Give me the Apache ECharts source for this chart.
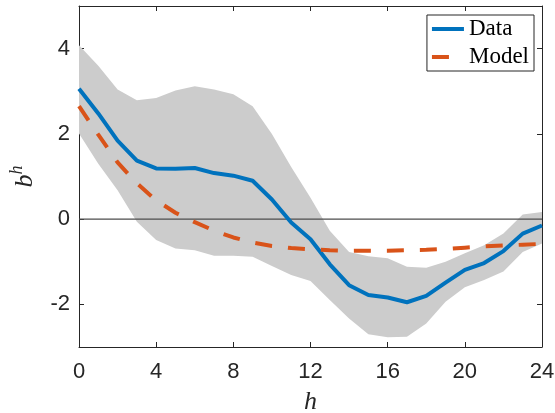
<!DOCTYPE html>
<html>
<head>
<meta charset="utf-8">
<script src="https://cdn.jsdelivr.net/npm/echarts@6/dist/echarts.min.js"></script>
<style>
html,body{margin:0;padding:0;background:#fff;}
#chart{width:555px;height:413px;}
</style>
</head>
<body>
<div id="chart"></div>
<script>
const hours = [0,1,2,3,4,5,6,7,8,9,10,11,12,13,14,15,16,17,18,19,20,21,22,23,24];
const dataVals = [3.06,2.48,1.84,1.37,1.19,1.18,1.20,1.08,1.02,0.90,0.46,-0.08,-0.47,-1.06,-1.55,-1.78,-1.84,-1.95,-1.80,-1.49,-1.19,-1.03,-0.75,-0.34,-0.15];
const modelVals = [2.65,1.98,1.33,0.84,0.44,0.15,-0.07,-0.27,-0.43,-0.55,-0.63,-0.68,-0.71,-0.73,-0.74,-0.74,-0.74,-0.73,-0.72,-0.70,-0.67,-0.64,-0.62,-0.60,-0.58];
const bandUpper = [4.08,3.60,3.04,2.79,2.84,3.02,3.12,3.04,2.93,2.65,2.00,1.22,0.50,-0.27,-0.77,-0.87,-0.92,-1.12,-1.14,-1.00,-0.80,-0.61,-0.34,0.11,0.17];
const bandLower = [2.01,1.30,0.68,-0.06,-0.49,-0.69,-0.73,-0.86,-0.86,-0.88,-1.10,-1.31,-1.45,-1.90,-2.33,-2.70,-2.77,-2.76,-2.45,-1.94,-1.60,-1.43,-1.23,-0.77,-0.57];
const zeroVals = [0,0,0,0,0,0,0,0,0,0,0,0,0,0,0,0,0,0,0,0,0,0,0,0,0];
const xTicks = [0,4,8,12,16,20,24];
const yTicks = [-2,0,2,4];
const seriesNames = ['Data','Model'];
const xName = 'h';

const axisColor = '#262626';
const pairs = vals => hours.map((h,i)=>[h, vals[i]]);
const bandData = hours.map((h,i)=>[h, bandLower[i], bandUpper[i]]);

const chart = echarts.init(document.getElementById('chart'), null, {renderer:'canvas'});
const tickFont = {fontFamily:'Liberation Sans, Arial, sans-serif', fontSize:22, color:axisColor};

function renderBand(params, api){
  if (params.dataIndex !== 0) return null;
  const top = [], bot = [];
  for (let i = 0; i < bandData.length; i++) {
    top.push(api.coord([bandData[i][0], bandData[i][2]]));
    bot.push(api.coord([bandData[i][0], bandData[i][1]]));
  }
  const pts = top.concat(bot.reverse());
  return {
    type:'polygon',
    shape:{points:pts},
    style:{fill:'#cccccc', stroke:null},
    silent:true
  };
}

const option = {
  animation:false,
  backgroundColor:'#fff',
  grid:{left:79, right:13, top:6, bottom:66, containLabel:false, outerBoundsMode:'none'},
  legend:{
    orient:'vertical', right:21, top:15,
    data:[
      {name:seriesNames[0], icon:'rect'},
      {name:seriesNames[1], icon:'path://M0,0h17v4h-17zM32,0h0.01v0.01h-0.01z'}
    ],
    backgroundColor:'#fff', borderColor:axisColor, borderWidth:1,
    padding:[2,5,2,5], itemGap:4, itemWidth:32, itemHeight:4,
    textStyle:{fontFamily:'Liberation Serif, serif', fontSize:23, color:'#000', lineHeight:24}
  },
  xAxis:[{
    type:'value', min:0, max:24, interval:4,
    name:xName, nameLocation:'middle', nameGap:42,
    nameTextStyle:{fontFamily:'Liberation Serif, serif', fontStyle:'italic', fontSize:26, color:axisColor},
    axisLine:{show:true, onZero:false, lineStyle:{color:axisColor, width:1}},
    axisTick:{show:true, inside:true, length:5, lineStyle:{color:axisColor}},
    axisLabel:Object.assign({margin:14}, tickFont),
    splitLine:{show:false}
  },{
    type:'value', min:0, max:24, interval:4, position:'top',
    axisLine:{show:true, onZero:false, lineStyle:{color:axisColor, width:1}},
    axisTick:{show:true, inside:true, length:5, lineStyle:{color:axisColor}},
    axisLabel:{show:false}, splitLine:{show:false}
  }],
  yAxis:[{
    type:'value', min:-3, max:5,
    name:'{b|b}{s|h}', nameLocation:'middle', nameGap:41, nameRotate:90,
    nameTextStyle:{
      color:axisColor,
      rich:{
        b:{fontFamily:'Liberation Serif, serif', fontStyle:'italic', fontSize:26, color:axisColor, verticalAlign:'bottom', lineHeight:30},
        s:{fontFamily:'Liberation Serif, serif', fontStyle:'italic', fontSize:18, color:axisColor, verticalAlign:'top', lineHeight:30}
      }
    },
    axisLine:{show:true, onZero:false, lineStyle:{color:axisColor, width:1}},
    axisTick:{show:true, inside:true, length:5, customValues:yTicks, lineStyle:{color:axisColor}},
    axisLabel:Object.assign({margin:9, customValues:yTicks}, tickFont),
    splitLine:{show:false}
  },{
    type:'value', min:-3, max:5, position:'right',
    axisLine:{show:true, onZero:false, lineStyle:{color:axisColor, width:1}},
    axisTick:{show:true, inside:true, length:5, customValues:yTicks, lineStyle:{color:axisColor}},
    axisLabel:{show:false}, splitLine:{show:false}
  }],
  series:[
    {
      name:'band', type:'custom', data:bandData, renderItem:renderBand,
      encode:{x:0, y:[1,2]}, silent:true, z:1
    },
    {
      name:'zero', type:'line', data:pairs(zeroVals), symbol:'none',
      lineStyle:{color:'#4d4d4d', width:1.2}, silent:true, z:2
    },
    {
      name:'Data', type:'line', data:pairs(dataVals), symbol:'none',
      lineStyle:{color:'#0072BD', width:4}, itemStyle:{color:'#0072BD'}, z:3
    },
    {
      name:'Model', type:'line', data:pairs(modelVals), symbol:'none',
      lineStyle:{color:'#D95319', width:4, type:[17,16]}, itemStyle:{color:'#D95319'}, z:4
    }
  ]
};
chart.setOption(option);
</script>
</body>
</html>
